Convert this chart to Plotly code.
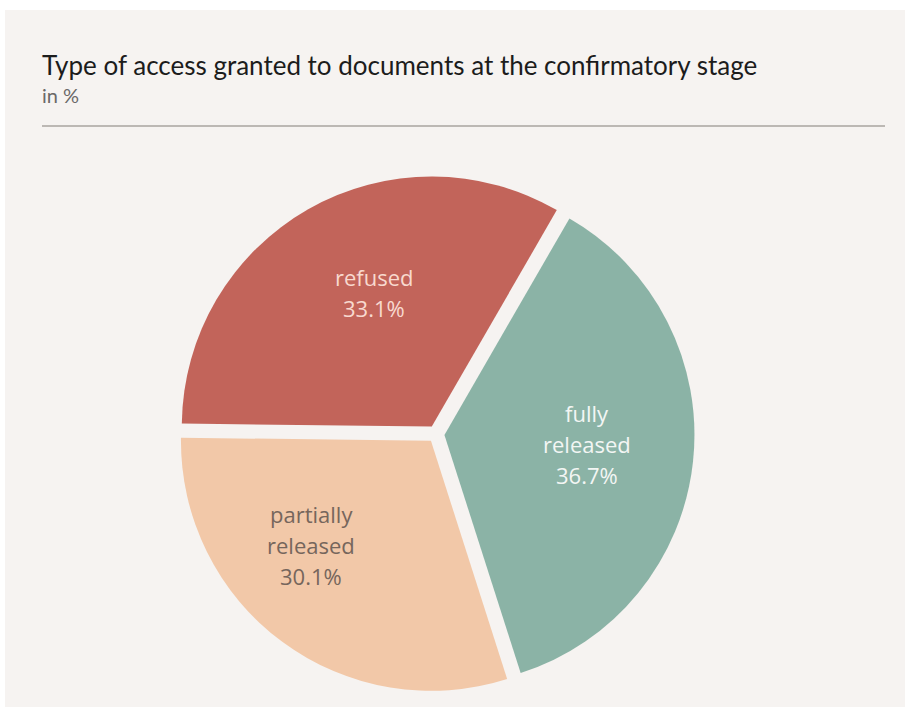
import plotly.graph_objects as go

# Access granted at the confirmatory stage, in %
categories = ["fully released", "partially released", "refused"]
label_lines = [["fully", "released"], ["partially", "released"], ["refused"]]
shares = [36.7, 30.1, 33.1]

slice_colors = ["#8bb3a6", "#f2c8a8", "#c2645a"]
text_colors = ["#f3f6f4", "#76665c", "#f8d9cf"]

panel_bg = "#f6f3f1"
W, H = 905, 707

# label block per slice: centre x and baseline of first line (px), line step
label_anchor = [(587, 422), (311, 523), (374, 286)]
line_step = 31
label_size = 22

fig = go.Figure()

fig.add_trace(go.Pie(
    labels=categories,
    values=shares,
    textinfo="none",
    marker=dict(colors=slice_colors, line=dict(width=0)),
    sort=False,
    direction="clockwise",
    rotation=30,
    pull=[0.034, 0.034, 0.034],
    hoverinfo="label+value",
    showlegend=False,
    domain=dict(x=[177.5 / W, 694.5 / W], y=[1 - 692.5 / H, 1 - 175.5 / H]),
))

shapes = [
    # white frame strips around the panel
    dict(type="rect", xref="paper", yref="paper", x0=0, x1=1, y0=1 - 10 / H, y1=1,
         fillcolor="white", line=dict(width=0), layer="above"),
    dict(type="rect", xref="paper", yref="paper", x0=0, x1=5 / W, y0=0, y1=1,
         fillcolor="white", line=dict(width=0), layer="above"),
    # rule under the heading
    dict(type="line", xref="paper", yref="paper", x0=42 / W, x1=885 / W,
         y0=1 - 126 / H, y1=1 - 126 / H, line=dict(color="#bcb8b4", width=2)),
]


def baseline_to_mid(baseline_px, size):
    # vertical middle of a text box whose baseline sits at baseline_px
    return 1 - (baseline_px - 0.39 * size) / H


annotations = [
    dict(text="Type of access granted to documents at the confirmatory stage",
         xref="paper", yref="paper", x=40 / W, y=baseline_to_mid(75, 26),
         xanchor="left", yanchor="middle", showarrow=False,
         font=dict(family="Lato", size=26, color="#1c1c1c")),
    dict(text="in %", xref="paper", yref="paper", x=40 / W, y=baseline_to_mid(102.5, 20),
         xanchor="left", yanchor="middle", showarrow=False,
         font=dict(family="Lato", size=20, color="#6b6968")),
]

# slice labels: name lines followed by the share
for lines, value, color, (cx, base) in zip(label_lines, shares, text_colors, label_anchor):
    for i, line in enumerate(lines + [f"{value:.1f}%"]):
        annotations.append(dict(
            text=line, xref="paper", yref="paper",
            x=cx / W, y=baseline_to_mid(base + i * line_step, label_size),
            xanchor="center", yanchor="middle", showarrow=False,
            font=dict(family="Open Sans", size=label_size, color=color),
        ))

fig.update_layout(
    width=W, height=H,
    margin=dict(l=0, r=0, t=0, b=0),
    paper_bgcolor=panel_bg,
    plot_bgcolor=panel_bg,
    shapes=shapes,
    annotations=annotations,
)

fig.write_html("out.html")
